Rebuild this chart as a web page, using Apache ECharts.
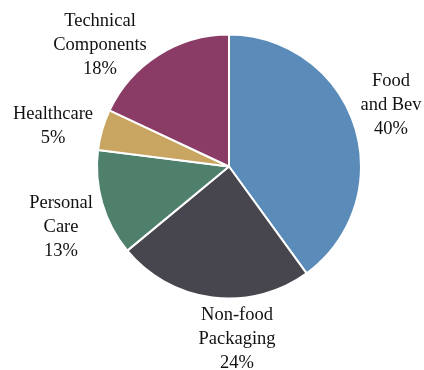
<!DOCTYPE html>
<html>
<head>
<meta charset="utf-8">
<script src="https://cdn.jsdelivr.net/npm/echarts@6/dist/echarts.min.js"></script>
<style>html,body{margin:0;padding:0;background:#fff}#c{width:424px;height:370px}</style>
</head>
<body>
<div id="c"></div>
<script>
const categories = ['Food and Bev', 'Non-food Packaging', 'Personal Care', 'Healthcare', 'Technical Components'];
const labelLines = ['Food\nand Bev', 'Non-food\nPackaging', 'Personal\nCare', 'Healthcare', 'Technical\nComponents'];
const values = [40, 24, 13, 5, 18];
const colors = ['#5b8cb9', '#47464e', '#4f806c', '#c8a560', '#8a3b66'];
// label anchor positions (centre of text block)
const labelPos = [[391, 105], [237, 339], [61, 227], [53, 126], [100, 45]];

const chart = echarts.init(document.getElementById('c'), null, {renderer: 'canvas'});
chart.setOption({
  animation: false,
  series: [{
    type: 'pie',
    center: [229, 166.5],
    radius: 132,
    startAngle: 90,
    clockwise: true,
    data: categories.map((c, i) => ({name: c, value: values[i], itemStyle: {color: colors[i]}})),
    itemStyle: {borderColor: '#ffffff', borderWidth: 2},
    label: {
      show: true,
      position: 'inside',
      overflow: 'none',
      formatter: p => labelLines[p.dataIndex] + '\n' + p.value + '%',
      fontFamily: 'Liberation Serif',
      fontSize: 18.5,
      lineHeight: 24,
      color: '#111111',
      align: 'center'
    },
    labelLine: {show: false},
    labelLayout: p => ({
      x: labelPos[p.dataIndex][0],
      y: labelPos[p.dataIndex][1],
      align: 'center',
      verticalAlign: 'middle'
    })
  }]
});
</script>
</body>
</html>
